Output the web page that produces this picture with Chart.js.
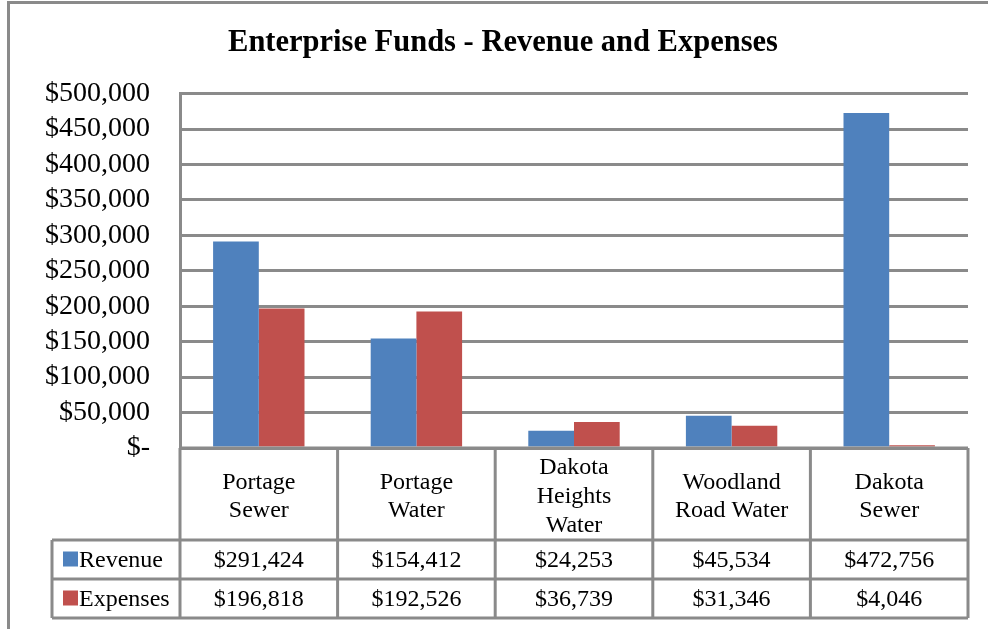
<!DOCTYPE html>
<html>
<head>
<meta charset="utf-8">
<title>Enterprise Funds - Revenue and Expenses</title>
<script src="https://cdn.jsdelivr.net/npm/chart.js@4"></script>
<style>
  html, body { margin: 0; padding: 0; background: #fff; }
  canvas { display: block; }
</style>
</head>
<body>
<canvas id="fundsChart" width="988" height="629"></canvas>
<script>
// Datos del gráfico
const categories = [
    ["Portage", "Sewer"],
    ["Portage", "Water"],
    ["Dakota", "Heights", "Water"],
    ["Woodland", "Road Water"],
    ["Dakota", "Sewer"]
];
const seriesNames = ["Revenue", "Expenses"];
const revenue = [291424, 154412, 24253, 45534, 472756];
const expenses = [196818, 192526, 36739, 31346, 4046];
const yMax = 500000;
const yStep = 50000;

const FONT = "'Liberation Serif', 'Times New Roman', serif";
const LINE_GRAY = "#8a8a8a";
const COLORS = ["#4F81BD", "#C0504D"];

// Formato de moneda como en Excel
function money(v) {
    if (v === 0) return "$-";
    return "$" + v.toLocaleString("en-US");
}

document.addEventListener("DOMContentLoaded", () => {
    const ctx = document.getElementById("fundsChart").getContext("2d");

    // Plugin: fondo blanco, marco exterior y título centrado como en Excel
    const framePlugin = {
        id: "frame",
        afterLayout(chart) {
            // el título del original está centrado un poco más a la derecha
            if (chart.titleBlock) {
                chart.titleBlock.left += 19;
                chart.titleBlock.right += 19;
            }
        },
        beforeDraw(chart) {
            const c = chart.ctx;
            c.save();
            c.fillStyle = "#fff";
            c.fillRect(0, 0, chart.width, chart.height);
            c.strokeStyle = LINE_GRAY;
            c.lineWidth = 3;
            c.strokeRect(8.5, 2.5, chart.width + 20, chart.height + 20);
            c.restore();
        }
    };

    // Plugin: tabla de datos debajo del eje X
    const dataTablePlugin = {
        id: "dataTable",
        afterDraw(chart) {
            const c = chart.ctx;
            const area = chart.chartArea;
            const n = categories.length;
            const colW = (area.right - area.left) / n;
            const top = area.bottom;
            const headerBottom = top + 92;
            const rowH = 39;
            const tableBottom = headerBottom + rowH * 2;
            const legendLeft = 52;

            c.save();
            c.strokeStyle = LINE_GRAY;
            c.lineWidth = 3;
            c.beginPath();
            // líneas horizontales
            c.moveTo(area.left, top); c.lineTo(area.right, top);
            for (let r = 0; r <= 2; r++) {
                const y = headerBottom + r * rowH;
                c.moveTo(legendLeft, y); c.lineTo(area.right, y);
            }
            // líneas verticales
            for (let i = 0; i <= n; i++) {
                const x = area.left + i * colW;
                c.moveTo(x, top); c.lineTo(x, tableBottom);
            }
            c.moveTo(legendLeft, headerBottom); c.lineTo(legendLeft, tableBottom);
            c.stroke();

            // valores de cada serie
            const rows = [revenue, expenses];
            c.font = "24px " + FONT;
            c.fillStyle = "#000";
            c.textBaseline = "middle";
            rows.forEach((vals, r) => {
                const cy = headerBottom + r * rowH + rowH / 2;
                c.textAlign = "center";
                vals.forEach((v, i) => {
                    const cx = chart.scales.x.getPixelForValue(i);
                    c.fillText(money(v), cx, cy + 1);
                });
                // leyenda en la primera columna
                c.fillStyle = COLORS[r];
                c.fillRect(63, cy - 8, 15, 15);
                c.fillStyle = "#000";
                c.textAlign = "left";
                c.fillText(seriesNames[r], 79, cy + 1);
            });
            c.restore();
        }
    };

    new Chart(ctx, {
        type: "bar",
        data: {
            labels: categories,
            datasets: [
                {
                    label: seriesNames[0],
                    data: revenue,
                    backgroundColor: COLORS[0],
                    categoryPercentage: 0.58,
                    barPercentage: 1
                },
                {
                    label: seriesNames[1],
                    data: expenses,
                    backgroundColor: COLORS[1],
                    categoryPercentage: 0.58,
                    barPercentage: 1
                }
            ]
        },
        options: {
            responsive: false,
            animation: false,
            layout: { padding: { left: 0, right: 20, top: 0, bottom: 89 } },
            plugins: {
                legend: { display: false },
                tooltip: { enabled: false },
                title: {
                    display: true,
                    text: "Enterprise Funds - Revenue and Expenses",
                    color: "#000",
                    font: { family: FONT, size: 30.5, weight: "bold", lineHeight: 1.2 },
                    padding: { top: 25, bottom: 32 }
                }
            },
            scales: {
                x: {
                    grid: { display: false, drawTicks: false, tickLength: 0 },
                    border: { display: false },
                    ticks: {
                        color: "#000",
                        font: { family: FONT, size: 24, lineHeight: 1.2 },
                        maxRotation: 0,
                        autoSkip: false,
                        crossAlign: "center",
                        padding: 20
                    },
                    afterFit: (axis) => { axis.height = 92; }
                },
                y: {
                    min: 0,
                    max: yMax,
                    grid: { color: LINE_GRAY, lineWidth: 3, drawTicks: false },
                    border: { display: true, color: LINE_GRAY, width: 3 },
                    ticks: {
                        stepSize: yStep,
                        autoSkip: false,
                        color: "#000",
                        padding: 30,
                        font: { family: FONT, size: 28 },
                        callback: (v) => money(v)
                    },
                    afterFit: (axis) => { axis.width = 180; }
                }
            }
        },
        plugins: [framePlugin, dataTablePlugin]
    });
});
</script>
</body>
</html>
